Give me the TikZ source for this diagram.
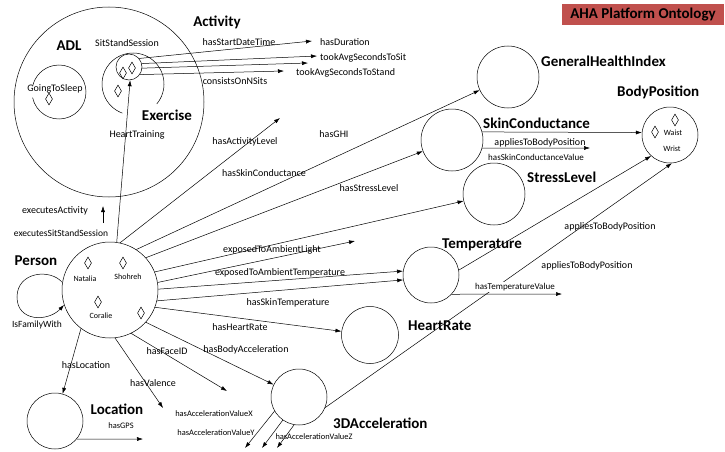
\documentclass[tikz,border=0pt]{standalone}
\usepackage{fontspec}
\setmainfont{Carlito}
\usetikzlibrary{shapes,positioning,arrows.meta,calc}
\definecolor{ahared}{RGB}{192,80,77}
\tikzset{
  cls/.style={draw, circle, inner sep=0pt, line width=0.5pt},
  inst/.style={draw, diamond, inner sep=0pt, minimum width=7pt, minimum height=12pt, line width=0.5pt},
  clslbl/.style={font=\bfseries\fontsize{15}{18}\selectfont, inner sep=0pt},
  rel/.style={font=\fontsize{10}{12}\selectfont, inner sep=0pt},
  relsm/.style={font=\fontsize{8.4}{10}\selectfont, inner sep=0pt},
  indiv/.style={font=\fontsize{8}{10}\selectfont, inner sep=0pt},
  link/.style={->, line width=0.5pt},
}

\begin{document}
\begin{tikzpicture}[x=1pt, y=-1pt, >={Latex[length=6pt,width=4pt]}]
            \useasboundingbox (0,0) rectangle (725,452);
            % title
            \node[fill=ahared, text=black, minimum width=162pt, minimum height=21pt, inner sep=0pt,
                  font=\bfseries\fontsize{15}{18}\selectfont] (title) at (643,15) {AHA Platform Ontology};

            % activity circles
            \node[cls, minimum size=190pt] (act) at (109,102) {};
            \node[cls, minimum size=26pt] (sss) at (129,67) {};
            \draw[line width=0.5pt] (59,92) ++(-168:27pt) arc[start angle=-168, end angle=168, radius=27pt];
            \draw[line width=0.5pt] (133,84) ++(-40:31pt) arc[start angle=-40, end angle=250, radius=31pt];
            \node[clslbl] (actlbl) at (217,22) {Activity};
            \node[clslbl] (adllbl) at (69,46) {ADL};
            \node[clslbl] (exlbl) at (167,115) {Exercise};
            \node[rel] (ssslbl) at (127,43) {SitStandSession};
            \node[rel] (gtslbl) at (55,89) {GoingToSleep};
            \node[rel] (htlbl) at (137,135) {HeartTraining};
            \node[inst] (gts) at (49,99) {};
            \node[inst] (ex) at (118,91) {};
            \node[inst] (sssa) at (123,73) {};
            \node[inst] (sssb) at (132,68) {};

            % sit stand session properties
            \coordinate (dur) at (312,41);
            \coordinate (tsit) at (317,56);
            \coordinate (tmid) at (308,63);
            \coordinate (tstand) at (284,71);
            \draw[link] (sss.40) -- (dur);
            \draw[link] (sss.15) -- (tsit);
            \draw[link] (sss.-5) -- (tmid);
            \draw[link] (sss.-35) -- (tstand);
            \node[rel] (sdt) at (239,42) {hasStartDateTime};
            \node[rel, anchor=west] (durlbl) at (320,42) {hasDuration};
            \node[rel, anchor=west] (tsitlbl) at (320,58) {tookAvgSecondsToSit};
            \node[rel, anchor=west] (tstandlbl) at (296,73) {tookAvgSecondsToStand};
            \node[rel] (nsits) at (235,81) {consistsOnNSits};

            % person
            \node[cls, minimum size=96pt] (person) at (110,290) {};
            \node[clslbl] (personlbl) at (36,261) {Person};
            \node[inst] (nat) at (88,263) {};
            \node[inst] (sho) at (123,263) {};
            \node[inst] (cor) at (98,302) {};
            \node[inst] (oth) at (141,313) {};
            \node[indiv] (natlbl) at (85,279) {Natalia};
            \node[indiv] (sholbl) at (128,277) {Shohreh};
            \node[indiv] (corlbl) at (101,316) {Coralie};

            \coordinate (eatail) at (103,223);
            \coordinate (eatip) at (103,206);
            \draw[link] (eatail) -- (eatip);
            \node[rel] (ealbl) at (55,211) {executesActivity};
            \node[rel, font=\fontsize{9.5}{11}\selectfont] (esslbl) at (61,233) {executesSitStandSession};
            \draw[link] (person.82) -- (sss.-85);

            \draw[link] (person.171) .. controls (50,268) and (17,272) .. (17,297)
                        .. controls (17,322) and (48,322) .. (person.198);
            \node[rel, font=\fontsize{9.5}{11}\selectfont] (famlbl) at (37,325) {IsFamilyWith};

            % other classes
            \node[cls, minimum size=62pt] (ghi) at (508,77) {};
            \node[cls, minimum size=62pt] (skc) at (452,140) {};
            \node[cls, minimum size=62pt] (stress) at (494,194) {};
            \node[cls, minimum size=56pt] (bodypos) at (670,135) {};
            \node[cls, minimum size=56pt] (temp) at (431,275) {};
            \node[cls, minimum size=57pt] (hr) at (370,335) {};
            \node[cls, minimum size=56pt] (acc) at (299,397) {};
            \node[cls, minimum size=56pt] (loc) at (55,421) {};
            \node[clslbl, anchor=west] (ghilbl) at (541,61) {GeneralHealthIndex};
            \node[clslbl, anchor=west] (skclbl) at (483,123) {SkinConductance};
            \node[clslbl, anchor=west] (stresslbl) at (527,177) {StressLevel};
            \node[clslbl, anchor=west] (bplbl) at (617,92) {BodyPosition};
            \node[clslbl, anchor=west] (templbl) at (442,245) {Temperature};
            \node[clslbl, anchor=west] (hrlbl) at (408,326) {HeartRate};
            \node[clslbl, anchor=west] (acclbl) at (333,423) {3DAcceleration};
            \node[clslbl] (loclbl) at (117,409) {Location};
            \node[inst] (waist) at (655,132) {};
            \node[inst] (wrist) at (675,120) {};
            \node[indiv] (waistlbl) at (673,133) {Waist};
            \node[indiv] (wristlbl) at (672,149) {Wrist};

            % person properties
            \coordinate (actlvl) at (280,118);
            \coordinate (light) at (355,241);
            \coordinate (face) at (227,391);
            \coordinate (val) at (163,408);
            \draw[link] (person.78) -- (actlvl);
            \draw[link] (person.57) -- (ghi);
            \draw[link] (person.42) -- (skc);
            \draw[link] (person.22) -- (stress);
            \draw[link] (person.9) -- (light);
            \draw[link] (person.1) -- (temp.172);
            \draw[link] (person.-13) -- (temp.190);
            \draw[link] (person.-21) -- (hr);
            \draw[link] (person.-42) -- (acc);
            \draw[link] (person.-64) -- (face);
            \draw[link] (person.-84) -- (val);
            \draw[link] (person.-127) -- (loc);
            \node[rel] (al) at (245,142) {hasActivityLevel};
            \node[rel] (ghilink) at (334,134) {hasGHI};
            \node[rel] (skclink) at (264,173) {hasSkinConductance};
            \node[rel] (stresslink) at (369,188) {hasStressLevel};
            \node[rel] (lightlink) at (272,250) {exposedToAmbientLight};
            \node[rel] (ambtlink) at (280,273) {exposedToAmbientTemperature};
            \node[rel] (skintlink) at (288,303) {hasSkinTemperature};
            \node[rel] (hrlink) at (240,327) {hasHeartRate};
            \node[rel] (acclink) at (246,350) {hasBodyAcceleration};
            \node[rel] (facelink) at (167,351) {hasFaceID};
            \node[rel] (vallink) at (153,383) {hasValence};
            \node[rel] (loclink) at (86,365) {hasLocation};

            % location
            \coordinate (gps) at (143,439);
            \draw[link] (loc.-40) -- (gps);
            \node[relsm] (gpslbl) at (121,426) {hasGPS};

            % skin conductance, temperature
            \coordinate (skcval) at (590,148);
            \draw[link] (skc.15) -- (bodypos.175);
            \draw[link] (skc.-15) -- (skcval);
            \node[rel] (skcbp) at (540,143) {appliesToBodyPosition};
            \node[rel, font=\fontsize{9}{11}\selectfont] (skcvallbl) at (536,157) {hasSkinConductanceValue};
            \coordinate (tval) at (562,294);
            \draw[link] (temp.10) -- (bodypos.-132);
            \draw[link] (temp.-43) -- (tval);
            \draw[link] (acc.-22) -- (bodypos.-86);
            \node[rel, font=\fontsize{9}{11}\selectfont, fill=white, inner sep=1pt] (tvallbl) at (515,287) {hasTemperatureValue};
            \node[rel] (tempbp) at (587,266) {appliesToBodyPosition};
            \node[rel] (accbp) at (610,227) {appliesToBodyPosition};

            % acceleration values
            \coordinate (ax) at (245,448);
            \coordinate (ay) at (262,448);
            \coordinate (az) at (277,448);
            \draw[link] (acc.-150) -- (ax);
            \draw[link] (acc.-125) -- (ay);
            \draw[link] (acc.-100) -- (az);
            \node[relsm] (axlbl) at (214,414) {hasAccelerationValueX};
            \node[relsm] (aylbl) at (216,433) {hasAccelerationValueY};
            \node[relsm] (azlbl) at (314,437) {hasAccelerationValueZ};
        \end{tikzpicture}
\end{document}
